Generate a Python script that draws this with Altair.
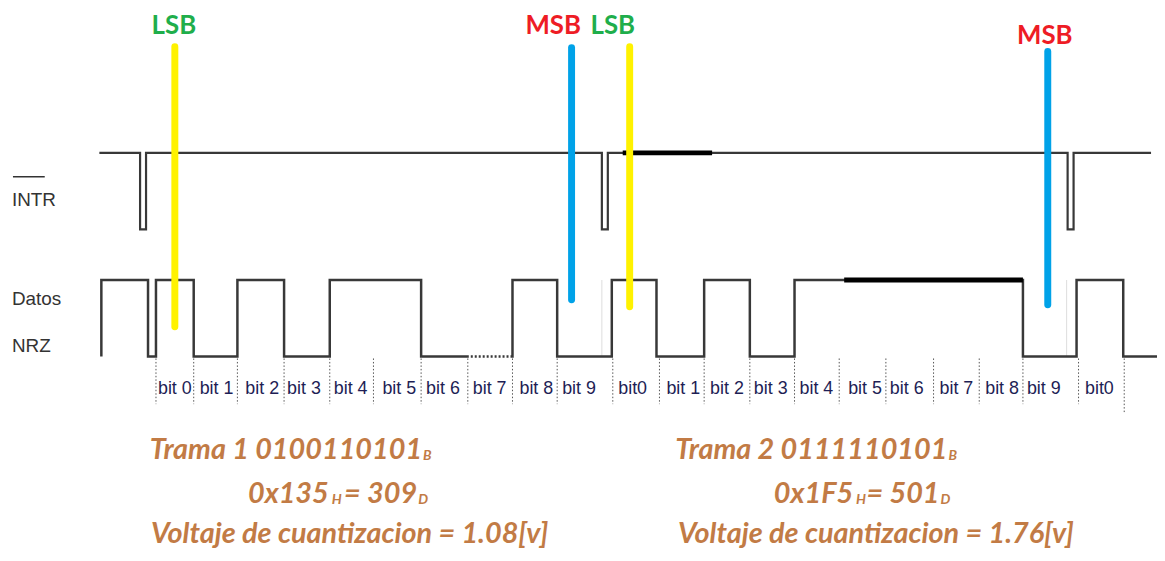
import altair as alt
import pandas as pd

# ---------------- values (diagram units ~ pixels) ----------------
# Datos NRZ waveform: transition positions and the level that follows each
data_x = [102, 102, 149, 157, 195, 239, 286, 332, 424, 516, 561, 616, 661, 709, 755, 800, 1030, 1084, 1131, 1165]
data_y = [357, 280, 357, 280, 357, 280, 357, 280, 357, 280, 357, 280, 357, 280, 357, 280, 357, 280, 357, 357]

# INTR waveform (active low pulses)
intr_x = [100, 141, 147, 606, 612, 1075, 1081, 1159]
intr_y = [152, 229, 152, 229, 152, 229, 152, 152]

# thick (bold) segments
bold_x1 = [627, 850]
bold_x2 = [717, 1030]
bold_y = [152, 280]

# dotted low segment (bit 7, frame 1)
dot_x1, dot_x2, dot_y = [472], [515], [357]

# faint separators between frames
faint_x = [606, 1074]

# bit cell separators
sep_x = [157, 195, 239, 286, 332, 376, 424, 471, 516, 561, 617, 664, 709, 755, 800, 845, 892, 940, 986, 1030, 1086, 1132]
sep_y2 = [405] * 21 + [415]

# bit labels
bit_labels = ["bit 0", "bit 1", "bit 2", "bit 3", "bit 4", "bit 5", "bit 6", "bit 7", "bit 8", "bit 9",
              "bit0", "bit 1", "bit 2", "bit 3", "bit 4", "bit 5", "bit 6", "bit 7", "bit 8", "bit 9", "bit0"]
bit_x = [176, 218, 264, 306, 353, 402, 446, 493, 540, 583,
         637, 688, 732, 776, 822, 871, 913, 963, 1009, 1051, 1107]

# LSB / MSB markers
lsb_x, lsb_top, lsb_bot = [176, 634], [45, 45], [327, 307]
msb_x, msb_top, msb_bot = [575.5, 1055], [46, 50], [300, 305]
marker_text = ["LSB", "MSB", "LSB", "MSB"]
marker_text_x = [175, 557, 617, 1052]
marker_text_y = [32, 32, 32, 42]
marker_color = ["#1fae4b", "#ee1c25", "#1fae4b", "#ee1c25"]

# signal names
sig_names = ["INTR", "Datos", "NRZ"]
sig_x = [12, 12, 12]
sig_y = [205, 305, 353]

# result texts
trama_text = ["Trama 1 0100110101", "Trama 2  0111110101"]
trama_right = [425, 954]
trama_y = 460
volt_text = ["Voltaje de cuantizacion = 1.08[v]", "Voltaje de cuantizacion = 1.76[v]"]
volt_center = [352, 882]
volt_y = 545
hex_text = ["0x135", "0x1F5"]
hex_right = [331, 859]
eq_text = ["= 309", "= 501"]
eq_right = [420, 946]
row2_y = 505
sub_text = ["B", "H", "D", "B", "H", "D"]
sub_x = [426, 334, 421, 955, 862, 947]
sub_y = [461, 506, 506, 461, 506, 506]

# ---------------- chart ----------------
SANS = "Liberation Sans, Arial, sans-serif"
HUMAN = "Lato, Open Sans, sans-serif"
XS = alt.Scale(domain=[8, 1165], nice=False, zero=False)
YS = alt.Scale(domain=[8, 553], nice=False, zero=False, reverse=True)


def X(f="x"):
    return alt.X(f + ":Q", scale=XS, axis=None)


def Y(f="y"):
    return alt.Y(f + ":Q", scale=YS, axis=None)


data_df = pd.DataFrame({"x": data_x, "y": data_y, "i": range(len(data_x))})
intr_df = pd.DataFrame({"x": intr_x, "y": intr_y, "i": range(len(intr_x))})

data_line = alt.Chart(data_df).mark_line(interpolate="step-after", color="#383838", strokeWidth=2.5).encode(
    x=X(), y=Y(), order="i:Q")
intr_line = alt.Chart(intr_df).mark_line(interpolate="step-after", color="#383838", strokeWidth=2.2).encode(
    x=X(), y=Y(), order="i:Q")

bold = alt.Chart(pd.DataFrame({"x": bold_x1, "x2": bold_x2, "y": bold_y})).mark_rule(
    color="black", strokeWidth=5).encode(x=X(), x2="x2:Q", y=Y())

dotted = alt.Chart(pd.DataFrame({"x": dot_x1, "x2": dot_x2, "y": dot_y})).mark_rule(
    color="white", strokeWidth=3, strokeDash=[2, 2]).encode(x=X(), x2="x2:Q", y=Y())

faint = alt.Chart(pd.DataFrame({"x": faint_x, "y": [280, 280], "y2": [357, 357]})).mark_rule(
    color="#dddddd", strokeWidth=1).encode(x=X(), y=Y(), y2="y2:Q")

seps = alt.Chart(pd.DataFrame({"x": sep_x, "y": [359] * len(sep_x), "y2": sep_y2})).mark_rule(
    color="#555555", strokeWidth=1, strokeDash=[1.5, 2]).encode(x=X(), y=Y(), y2="y2:Q")

bits = alt.Chart(pd.DataFrame({"x": bit_x, "y": [395] * len(bit_x), "t": bit_labels})).mark_text(
    font=SANS, fontSize=18, color="#1e1e55", align="center", baseline="alphabetic").encode(
    x=X(), y=Y(), text="t:N")

lsb = alt.Chart(pd.DataFrame({"x": lsb_x, "y": lsb_top, "y2": lsb_bot})).mark_rule(
    color="#fff200", strokeWidth=7, strokeCap="round").encode(x=X(), y=Y(), y2="y2:Q")
msb = alt.Chart(pd.DataFrame({"x": msb_x, "y": msb_top, "y2": msb_bot})).mark_rule(
    color="#00a2e8", strokeWidth=7, strokeCap="round").encode(x=X(), y=Y(), y2="y2:Q")

markers_txt = alt.Chart(pd.DataFrame({"x": marker_text_x, "y": marker_text_y, "t": marker_text,
                                      "c": marker_color})).mark_text(
    font=HUMAN, fontSize=26, fontWeight="bold", align="center", baseline="alphabetic").encode(
    x=X(), y=Y(), text="t:N", color=alt.Color("c:N", scale=None))

names = alt.Chart(pd.DataFrame({"x": sig_x, "y": sig_y, "t": sig_names})).mark_text(
    font=SANS, fontSize=19, color="#333333", align="left", baseline="alphabetic").encode(
    x=X(), y=Y(), text="t:N")
overline = alt.Chart(pd.DataFrame({"x": [13], "x2": [45], "y": [176]})).mark_rule(
    color="#333333", strokeWidth=1.6).encode(x=X(), x2="x2:Q", y=Y())

ORANGE = "#c27b45"
BIG = dict(font=HUMAN, fontSize=29, fontWeight="bold", fontStyle="italic", color=ORANGE, baseline="alphabetic")

trama = alt.Chart(pd.DataFrame({"x": trama_right, "y": [trama_y] * 2, "t": trama_text})).mark_text(
    align="right", **BIG).encode(x=X(), y=Y(), text="t:N")
volt = alt.Chart(pd.DataFrame({"x": volt_center, "y": [volt_y] * 2, "t": volt_text})).mark_text(
    align="center", **BIG).encode(x=X(), y=Y(), text="t:N")
hex_txt = alt.Chart(pd.DataFrame({"x": hex_right, "y": [row2_y] * 2, "t": hex_text})).mark_text(
    align="right", **BIG).encode(x=X(), y=Y(), text="t:N")
eq_txt = alt.Chart(pd.DataFrame({"x": eq_right, "y": [row2_y] * 2, "t": eq_text})).mark_text(
    align="right", **BIG).encode(x=X(), y=Y(), text="t:N")
sub_txt = alt.Chart(pd.DataFrame({"x": sub_x, "y": sub_y, "t": sub_text})).mark_text(
    font=HUMAN, fontSize=14, fontWeight="bold", fontStyle="italic", color=ORANGE,
    align="left", baseline="alphabetic").encode(x=X(), y=Y(), text="t:N")

chart = alt.layer(
    faint, data_line, intr_line, dotted, bold, seps, bits, lsb, msb, markers_txt,
    names, overline, trama, volt, hex_txt, eq_txt, sub_txt
).properties(
    width=1157, height=545, padding=0, autosize=alt.AutoSizeParams(type="none"), background="white"
).configure_view(stroke=None)

chart.save("out.html", embed_options={"renderer": "svg", "actions": False})
